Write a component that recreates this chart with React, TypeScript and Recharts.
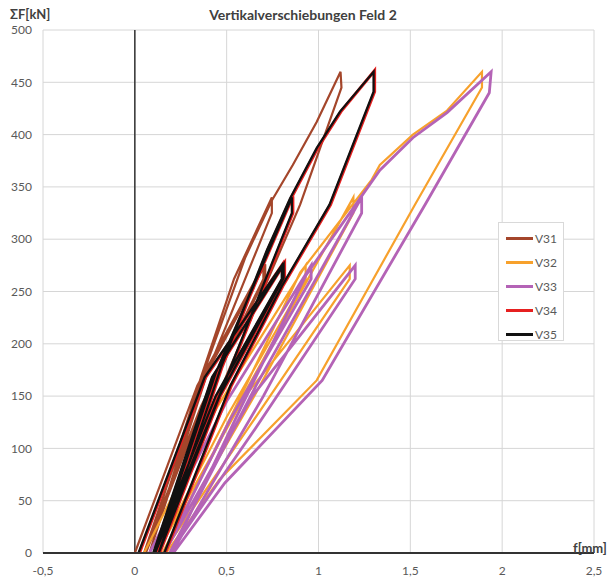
import React from "react";
import { LineChart, Line, XAxis, YAxis, CartesianGrid, ReferenceLine, Legend } from "recharts";

// f [mm], F [kN] pairs for each measurement point
const v31: [number, number][] = [
  [0, 0], [0.34, 160], [0.7, 275], [0.7, 262], [0.36, 140], [0.05, 0],
  [0.05, 0], [0.37, 165], [0.71, 276], [0.71, 263], [0.38, 145], [0.06, 0],
  [0.06, 0], [0.36, 168], [0.54, 262], [0.746, 340], [0.746, 325], [0.4, 175], [0.08, 0],
  [0.08, 0], [0.4, 185], [0.6, 282], [0.746, 337], [0.86, 371], [0.99, 412], [1.12, 460],
  [1.125, 445], [0.9, 333], [0.5, 170], [0.13, 0],
];
const v32: [number, number][] = [
  [0.05, 0], [0.45, 140], [0.93, 275], [0.93, 262], [0.5, 130], [0.12, 0],
  [0.12, 0], [0.6, 150], [1.17, 275], [1.17, 262], [0.62, 120], [0.15, 0],
  [0.15, 0], [0.62, 160], [1.19, 340], [1.19, 325], [0.65, 150], [0.16, 0],
  [0.16, 0], [0.55, 140], [0.9, 268], [1.29, 357], [1.334, 371], [1.514, 400], [1.7, 423], [1.89, 460],
  [1.89, 445], [1.525, 333], [0.99, 165], [0.46, 70], [0.17, 0],
];
const v33: [number, number][] = [
  [0.08, 0], [0.5, 145], [0.96, 275], [0.96, 262], [0.52, 128], [0.16, 0],
  [0.16, 0], [0.64, 150], [1.2, 275], [1.2, 262], [0.66, 120], [0.19, 0],
  [0.19, 0], [0.66, 160], [1.235, 340], [1.235, 325], [0.7, 150], [0.2, 0],
  [0.2, 0], [0.58, 140], [0.93, 265], [1.334, 366], [1.514, 397], [1.7, 421], [1.94, 460],
  [1.93, 440], [1.58, 333], [1.02, 165], [0.49, 67], [0.21, 0],
];
const v34: [number, number][] = [
  [0.025, 0], [0.385, 168], [0.805, 276], [0.805, 262], [0.445, 150], [0.105, 0],
  [0.105, 0], [0.425, 168], [0.815, 277], [0.815, 263], [0.465, 150], [0.115, 0],
  [0.115, 0], [0.445, 172], [0.86, 341], [0.86, 325], [0.505, 168], [0.135, 0],
  [0.135, 0], [0.475, 178], [0.725, 290], [0.85, 339], [0.995, 387], [1.122, 422], [1.305, 461],
  [1.305, 441], [1.065, 333], [0.805, 255], [0.525, 160], [0.165, 0],
];
const v35: [number, number][] = [
  [0.02, 0], [0.38, 168], [0.8, 275], [0.8, 262], [0.44, 150], [0.1, 0],
  [0.1, 0], [0.42, 168], [0.81, 276], [0.81, 263], [0.46, 150], [0.11, 0],
  [0.11, 0], [0.44, 172], [0.855, 340], [0.855, 325], [0.5, 168], [0.13, 0],
  [0.13, 0], [0.47, 178], [0.72, 290], [0.845, 339], [0.99, 387], [1.117, 422], [1.3, 460],
  [1.3, 441], [1.06, 333], [0.8, 255], [0.52, 160], [0.16, 0],
];

const xTicks = [-0.5, 0, 0.5, 1, 1.5, 2, 2.5];
const yTicks = [0, 50, 100, 150, 200, 250, 300, 350, 400, 450, 500];
const seriesNames = ["V31", "V32", "V33", "V34", "V35"];

const toRows = (arr: [number, number][]) => arr.map(([f, F]) => ({ f, F }));

const series = [
  { name: seriesNames[0], data: toRows(v31), color: "#A4462B", width: 2.2 },
  { name: seriesNames[1], data: toRows(v32), color: "#F7A12C", width: 2.2 },
  { name: seriesNames[2], data: toRows(v33), color: "#B463B6", width: 2.8 },
  { name: seriesNames[3], data: toRows(v34), color: "#E62020", width: 3.2 },
  { name: seriesNames[4], data: toRows(v35), color: "#111111", width: 2.3 },
];

const font = "Lato, 'Noto Sans', sans-serif";

const LegendBox = (props: any) => {
  const payload = props.payload || [];
  return (
    <div
      style={{
        border: "1px solid #d9d9d9",
        width: 66,
        height: 119,
        boxSizing: "border-box",
        background: "#fff",
        paddingTop: 3,
        fontFamily: font,
      }}
    >
      {payload.map((p: any) => (
        <div key={p.value} style={{ display: "flex", alignItems: "center", height: 24 }}>
          <div style={{ width: 27, height: 3, background: p.color, marginLeft: 7, marginRight: 2 }} />
          <span style={{ fontSize: 12, color: "#595959" }}>{p.value}</span>
        </div>
      ))}
    </div>
  );
};

export default function App() {
  return (
    <div style={{ position: "absolute", left: 0, top: 0, width: 612, height: 581, background: "#fff", fontFamily: font }}>
      <LineChart width={612} height={581} margin={{ top: 30, right: 18, left: 0, bottom: 0 }}>
        <CartesianGrid stroke="#d6d6d6" strokeWidth={1} />
        <XAxis
          dataKey="f"
          type="number"
          domain={[-0.5, 2.5]}
          ticks={xTicks}
          allowDataOverflow
          tickFormatter={(v: number) => String(v).replace(".", ",")}
          axisLine={{ stroke: "#333", strokeWidth: 2 }}
          tickLine={false}
          tickMargin={7}
          height={28}
          tick={{ fill: "#595959", fontSize: 12, fontFamily: font }}
        />
        <YAxis
          type="number"
          domain={[0, 500]}
          ticks={yTicks}
          width={43}
          axisLine={false}
          tickLine={false}
          tickMargin={5}
          tick={{ fill: "#595959", fontSize: 12, fontFamily: font }}
        />
        <ReferenceLine x={0} stroke="#333" strokeWidth={1.5} />
        {series.map((s) => (
          <Line
            key={s.name}
            name={s.name}
            data={s.data}
            dataKey="F"
            type="linear"
            stroke={s.color}
            strokeWidth={s.width}
            dot={false}
            activeDot={false}
            legendType="line"
            isAnimationActive={false}
          />
        ))}
        <Legend
          layout="vertical"
          align="center"
          verticalAlign="middle"
          content={<LegendBox />}
          wrapperStyle={{ position: "absolute", left: 498, top: 222, width: 66, height: 119 }}
        />
      </LineChart>
      <div style={{ position: "absolute", left: 0, top: 6, width: 606, textAlign: "center", fontSize: 14, fontWeight: 700, color: "#404040", lineHeight: "18px" }}>
        Vertikalverschiebungen Feld 2
      </div>
      <div style={{ position: "absolute", left: 10, top: 5, fontSize: 13, fontWeight: 700, color: "#404040", lineHeight: "18px" }}>
        ΣF[kN]
      </div>
      <div style={{ position: "absolute", left: 573, top: 539, fontSize: 13, fontWeight: 700, color: "#404040", lineHeight: "18px" }}>
        f[mm]
      </div>
    </div>
  );
}
